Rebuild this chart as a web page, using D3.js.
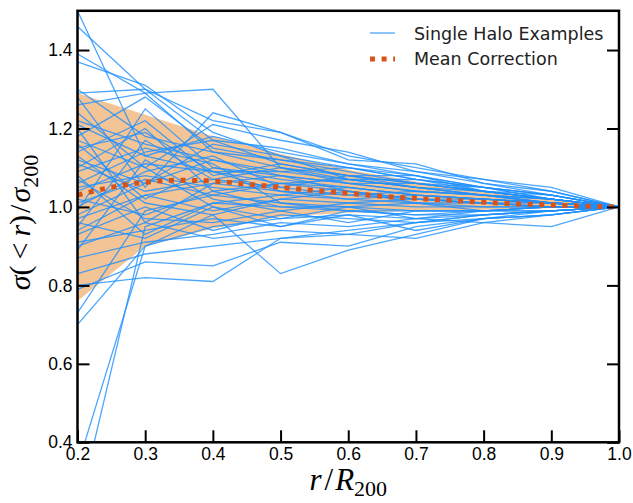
<!DOCTYPE html>
<html>
<head>
<meta charset="utf-8">
<script src="https://cdn.jsdelivr.net/npm/d3@7"></script>
<style>
  body { margin: 0; background: #fff; }
  svg { display: block; font-family: "DejaVu Sans", sans-serif; }
  .axis text { font-size: 17.5px; fill: #000; }
  .axis .domain { display: none; }
  .axis line { stroke: #000; stroke-width: 2; }
</style>
</head>
<body>
<svg id="chart"></svg>
<script>
// radius bins, r / R200
const radii = [0.2, 0.3, 0.4, 0.5, 0.6, 0.7, 0.8, 0.9, 1.0];

// individual halo curves, one value per radius bin
const haloCurves = [
  [1.50, 1.13, 1.09, 1.06, 1.05, 1.03, 1.02, 1.01, 1.00],
  [1.46, 1.30, 1.17, 1.11, 1.08, 1.06, 1.04, 1.02, 1.00],
  [1.39, 1.29, 1.30, 1.10, 1.07, 1.05, 1.03, 1.02, 1.00],
  [1.37, 1.31, 1.19, 1.13, 1.10, 1.07, 1.05, 1.03, 1.00],
  [1.30, 1.18, 1.14, 1.12, 1.09, 1.06, 1.04, 1.02, 1.00],
  [1.29, 1.30, 1.22, 1.19, 1.13, 1.10, 1.07, 1.04, 1.00],
  [1.28, 1.05, 1.24, 1.19, 1.12, 1.11, 1.06, 1.03, 1.00],
  [1.26, 1.29, 1.14, 1.10, 1.08, 1.08, 1.05, 1.03, 1.00],
  [1.24, 1.10, 1.21, 1.17, 1.14, 1.09, 1.07, 1.05, 1.00],
  [1.22, 1.16, 1.12, 1.08, 1.06, 1.04, 1.03, 1.01, 1.00],
  [1.20, 0.96, 1.06, 1.04, 1.03, 1.02, 1.01, 1.01, 1.00],
  [1.18, 1.28, 1.15, 1.12, 1.10, 1.07, 1.05, 1.03, 1.00],
  [1.16, 1.02, 1.10, 1.07, 1.05, 1.03, 1.02, 1.01, 1.00],
  [1.14, 1.22, 1.08, 1.11, 1.08, 1.06, 1.04, 1.02, 1.00],
  [1.12, 1.06, 1.16, 1.13, 1.07, 1.05, 1.03, 1.02, 1.00],
  [1.10, 1.20, 1.04, 1.06, 1.04, 1.02, 1.02, 1.01, 1.00],
  [1.08, 0.93, 1.01, 1.03, 1.02, 1.01, 1.00, 1.00, 1.00],
  [1.06, 1.14, 1.17, 1.15, 1.11, 1.08, 1.05, 1.02, 1.00],
  [1.04, 1.11, 1.09, 1.09, 1.07, 1.05, 1.04, 1.02, 1.00],
  [1.02, 0.98, 1.04, 1.00, 0.99, 0.98, 0.99, 0.99, 1.00],
  [1.00, 1.09, 1.13, 1.05, 1.03, 1.04, 1.03, 1.01, 1.00],
  [0.99, 1.25, 1.10, 1.08, 1.06, 1.04, 1.03, 1.02, 1.00],
  [0.97, 1.03, 0.99, 1.02, 1.01, 1.00, 1.00, 1.00, 1.00],
  [0.95, 1.17, 1.07, 1.05, 1.08, 1.05, 1.03, 1.01, 1.00],
  [0.93, 1.00, 0.94, 0.98, 0.97, 0.96, 0.98, 0.99, 1.00],
  [0.91, 0.94, 0.97, 0.95, 0.99, 0.99, 0.99, 1.00, 1.00],
  [0.89, 1.12, 1.02, 0.99, 1.01, 1.02, 1.01, 1.00, 1.00],
  [0.87, 0.91, 0.93, 0.96, 0.95, 0.97, 0.98, 0.99, 1.00],
  [0.83, 0.88, 0.90, 0.92, 0.94, 0.96, 0.97, 0.98, 1.00],
  [0.80, 0.82, 0.81, 0.92, 0.93, 0.96, 0.98, 0.99, 1.00],
  [0.79, 0.86, 0.85, 0.91, 0.90, 0.95, 0.97, 0.99, 1.00],
  [0.73, 0.99, 1.03, 1.01, 0.99, 0.98, 0.98, 0.99, 1.00],
  [0.70, 0.90, 0.98, 0.83, 0.89, 0.93, 0.97, 0.98, 1.00],
  [0.34, 0.90, 0.95, 0.97, 0.98, 0.97, 0.99, 0.99, 1.00],
  [0.22, 0.95, 1.01, 1.00, 1.00, 0.99, 0.99, 1.00, 1.00],
  [1.11, 1.04, 1.07, 1.10, 1.06, 1.06, 1.05, 1.02, 1.00],
  [1.05, 1.08, 1.05, 1.03, 1.05, 1.03, 1.02, 1.01, 1.00],
  [0.98, 1.06, 1.12, 1.09, 1.10, 1.08, 1.04, 1.03, 1.00],
  [1.13, 1.01, 0.98, 1.02, 1.04, 1.01, 1.01, 1.00, 1.00],
  [1.21, 1.13, 1.18, 1.14, 1.11, 1.09, 1.06, 1.04, 1.00],
  [0.96, 0.92, 1.00, 0.97, 1.00, 1.01, 0.99, 1.00, 1.00],
  [1.07, 0.97, 0.96, 0.99, 0.96, 0.99, 0.99, 1.00, 1.00],
  [1.15, 1.19, 1.09, 1.04, 1.02, 1.03, 1.02, 1.01, 1.00],
  [1.01, 1.07, 1.03, 1.06, 1.07, 1.07, 1.04, 1.02, 1.00],
  [0.94, 1.03, 1.06, 1.08, 1.04, 1.02, 1.01, 1.00, 1.00],
  [1.09, 1.15, 1.11, 1.01, 1.00, 0.97, 0.96, 0.95, 1.00],
  [1.17, 1.10, 1.00, 0.95, 0.98, 0.94, 0.97, 0.98, 1.00],
  [0.90, 0.96, 0.92, 0.94, 0.93, 0.92, 0.96, 0.98, 1.00]
];

// scatter band (mean +/- 1 sigma)
const bandLow  = [0.76, 0.90, 0.945, 0.975, 0.985, 0.99, 0.993, 0.997, 1.00];
const bandHigh = [1.29, 1.235, 1.18, 1.135, 1.095, 1.065, 1.04, 1.02, 1.00];

// mean correction curve
const meanR    = [0.2, 0.25, 0.3, 0.35, 0.4, 0.45, 0.5, 0.55, 0.6, 0.65, 0.7, 0.75, 0.8, 0.85, 0.9, 0.95, 1.0];
const meanVals = [1.03, 1.05, 1.063, 1.068, 1.066, 1.058, 1.05, 1.042, 1.035, 1.027, 1.022, 1.017, 1.012, 1.008, 1.005, 1.002, 1.0];

const xTicks = [0.2, 0.3, 0.4, 0.5, 0.6, 0.7, 0.8, 0.9, 1.0];
const yTicks = [0.4, 0.6, 0.8, 1.0, 1.2, 1.4];

const width = 633, height = 503;
const margin = {top: 10.8, right: 14, bottom: 60.7, left: 77.5};

const svg = d3.select('#chart')
    .attr('width', width)
    .attr('height', height);

const x = d3.scaleLinear().domain([0.2, 1.0]).range([margin.left, width - margin.right]);
const y = d3.scaleLinear().domain([0.4, 1.5]).range([height - margin.bottom, margin.top]);

svg.append('defs').append('clipPath').attr('id', 'plotclip')
  .append('rect')
    .attr('x', x(0.2)).attr('y', y(1.5))
    .attr('width', x(1.0) - x(0.2)).attr('height', y(0.4) - y(1.5));

const plot = svg.append('g').attr('clip-path', 'url(#plotclip)');

// band
const band = d3.area()
    .x((d, i) => x(radii[i]))
    .y0((d, i) => y(bandLow[i]))
    .y1((d, i) => y(bandHigh[i]));

plot.append('path')
    .datum(radii)
    .attr('d', band)
    .attr('fill', '#f3c496');

// halo lines
const line = d3.line()
    .x((d, i) => x(radii[i]))
    .y(d => y(d));

plot.selectAll('.halo')
    .data(haloCurves)
  .join('path')
    .attr('class', 'halo')
    .attr('d', line)
    .attr('fill', 'none')
    .attr('stroke', '#1e90ff')
    .attr('stroke-opacity', 0.8)
    .attr('stroke-width', 1.3);

// mean curve
const meanLine = d3.line()
    .x((d, i) => x(meanR[i]))
    .y(d => y(d))
    .curve(d3.curveMonotoneX);

plot.append('path')
    .datum(meanVals)
    .attr('d', meanLine)
    .attr('fill', 'none')
    .attr('stroke', '#d95319')
    .attr('stroke-width', 5)
    .attr('stroke-dasharray', '5,6.6');

// axes, ticks pointing inward
svg.append('g')
    .attr('class', 'axis')
    .attr('transform', `translate(0,${y(0.4)})`)
    .call(d3.axisBottom(x).tickValues(xTicks).tickFormat(d3.format('.1f'))
        .tickSizeInner(-12).tickSizeOuter(0).tickPadding(5));

svg.append('g')
    .attr('class', 'axis')
    .attr('transform', `translate(${x(0.2)},0)`)
    .call(d3.axisLeft(y).tickValues(yTicks).tickFormat(d3.format('.1f'))
        .tickSizeInner(-12).tickSizeOuter(0).tickPadding(5));

svg.append('g')
    .attr('class', 'axis')
    .attr('transform', `translate(${x(1.0)},0)`)
    .call(d3.axisRight(y).tickValues(yTicks).tickFormat('')
        .tickSizeInner(-12).tickSizeOuter(0));

// frame
svg.append('rect')
    .attr('x', x(0.2)).attr('y', y(1.5))
    .attr('width', x(1.0) - x(0.2)).attr('height', y(0.4) - y(1.5))
    .attr('fill', 'none')
    .attr('stroke', '#000')
    .attr('stroke-width', 2.5);

// axis labels
const mathFont = '"Liberation Serif", "DejaVu Serif", serif';

const xl = svg.append('text')
    .attr('x', (x(0.2) + x(1.0)) / 2)
    .attr('y', 490)
    .attr('text-anchor', 'middle')
    .style('font-family', mathFont)
    .style('font-size', '31px');
xl.append('tspan').style('font-style', 'italic').text('r');
xl.append('tspan').attr('dx', 3).text('/');
xl.append('tspan').attr('dx', 2).style('font-style', 'italic').text('R');
xl.append('tspan').attr('dy', 6).style('font-size', '22px').text('200');

const yl = svg.append('text')
    .attr('transform', `translate(30,${(y(0.4) + y(1.5)) / 2 - 4}) rotate(-90)`)
    .attr('text-anchor', 'middle')
    .style('font-family', mathFont)
    .style('font-size', '30px');
yl.append('tspan').style('font-style', 'italic').text('σ');
yl.append('tspan').text('(\u2009<\u2009');
yl.append('tspan').style('font-style', 'italic').text('r');
yl.append('tspan').text(')');
yl.append('tspan').attr('dx', 2).text('/');
yl.append('tspan').attr('dx', 2).style('font-style', 'italic').text('σ');
yl.append('tspan').attr('dy', 8).style('font-size', '22px').text('200');

// legend
const legend = svg.append('g').attr('transform', 'translate(370,0)');
legend.append('line')
    .attr('x1', 0).attr('x2', 25).attr('y1', 33).attr('y2', 33)
    .attr('stroke', '#1e90ff').attr('stroke-opacity', 0.8).attr('stroke-width', 1.3);
legend.append('line')
    .attr('x1', 0).attr('x2', 25).attr('y1', 59).attr('y2', 59)
    .attr('stroke', '#d95319').attr('stroke-width', 5).attr('stroke-dasharray', '5,6.6');
legend.append('text')
    .attr('x', 44).attr('y', 40)
    .style('font-size', '17.5px').attr('fill', '#222')
    .text('Single Halo Examples');
legend.append('text')
    .attr('x', 44).attr('y', 65)
    .style('font-size', '17.5px').attr('fill', '#222')
    .text('Mean Correction');
</script>
</body>
</html>
